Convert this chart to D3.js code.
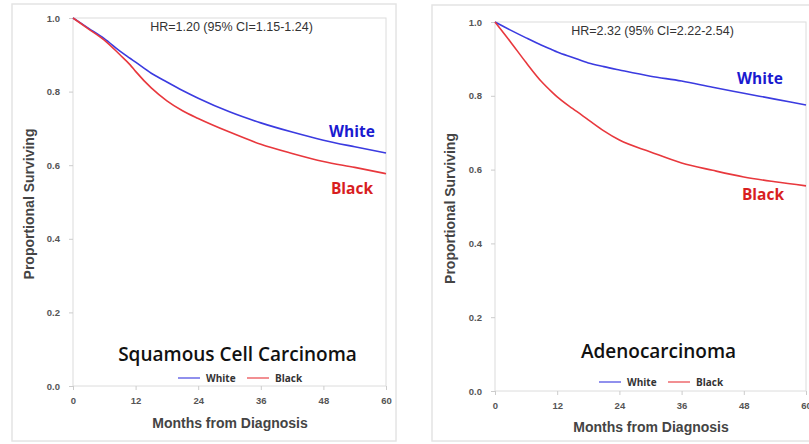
<!doctype html>
<html>
<head>
<meta charset="utf-8">
<title>Survival by race</title>
<style>
  html, body { margin: 0; padding: 0; background: #fff; }
  svg { display: block; }
  .tick text { font-family: "Liberation Sans", Arial, sans-serif; font-weight: bold; font-size: 9.5px; fill: #555; }
  .axis-title { font-family: "Liberation Sans", Arial, sans-serif; font-weight: bold; font-size: 14px; fill: #444; }
  .hr { font-family: "Liberation Sans", Arial, sans-serif; font-size: 12.5px; fill: #333; }
  .panel-title { font-family: "Open Sans", "Noto Sans", sans-serif; font-weight: 600; font-size: 19px; fill: #111; }
  .legend { font-family: "Open Sans", "Noto Sans", sans-serif; font-weight: bold; font-size: 10px; fill: #333; }
  .race { font-family: "Open Sans", "Noto Sans", sans-serif; font-weight: bold; font-size: 15.5px; }
</style>
</head>
<body>
<svg id="chart" width="809" height="444"></svg>
<script src="https://d3js.org/d3.v7.min.js"></script>
<script>
// months after diagnosis where the curves were read
var sqMonths = [0, 3, 6, 9, 11, 12, 15, 18, 21, 24, 30, 36, 42, 48, 54, 60];
var sqWhite  = [1.0, 0.972, 0.944, 0.91, 0.89, 0.88, 0.85, 0.826, 0.803, 0.782, 0.745, 0.715, 0.69, 0.668, 0.65, 0.633];
var sqBlack  = [1.0, 0.97, 0.94, 0.9, 0.872, 0.855, 0.81, 0.775, 0.748, 0.727, 0.69, 0.657, 0.632, 0.61, 0.594, 0.577];

var adMonths = [0, 3, 6, 9, 11, 12, 15, 18, 21, 24, 30, 36, 42, 48, 54, 60];
var adWhite  = [1.0, 0.978, 0.957, 0.937, 0.925, 0.919, 0.904, 0.889, 0.879, 0.87, 0.853, 0.84, 0.823, 0.807, 0.791, 0.775];
var adBlack  = [1.0, 0.946, 0.89, 0.838, 0.81, 0.797, 0.765, 0.735, 0.705, 0.68, 0.648, 0.618, 0.598, 0.58, 0.567, 0.556];

var xTicks = [0, 12, 24, 36, 48, 60];
var yTicks = [0.0, 0.2, 0.4, 0.6, 0.8, 1.0];
var seriesNames = ["White", "Black"];
var seriesColors = ["#3b3be0", "#e8383d"];
var labelColors = ["#1a1ad0", "#d81e1e"];

var panels = [
  { months: sqMonths, white: sqWhite, black: sqBlack,
    frame: [12, 4, 384, 437], plot: { left: 73, right: 386, top: 18, bottom: 386 },
    hr: "HR=1.20 (95% CI=1.15-1.24)", hrY: 31,
    title: "Squamous Cell Carcinoma", titleY: 361,
    raceLabels: [{ x: 352, y: 137 }, { x: 352, y: 194 }],
    legendX: 178, legendY: 378, ytitleX: 34, xtitleX: 230, xtitleY: 428 },
  { months: adMonths, white: adWhite, black: adBlack,
    frame: [432, 5, 400, 436], plot: { left: 495, right: 806, top: 22, bottom: 391 },
    hr: "HR=2.32 (95% CI=2.22-2.54)", hrY: 35,
    title: "Adenocarcinoma", titleY: 358,
    raceLabels: [{ x: 760, y: 84 }, { x: 763, y: 200 }],
    legendX: 599, legendY: 382, ytitleX: 455, xtitleX: 651, xtitleY: 432 }
];

var svg = d3.select("#chart");

panels.forEach(function(p) {
  var g = svg.append("g");

  g.append("rect")
    .attr("x", p.frame[0]).attr("y", p.frame[1])
    .attr("width", p.frame[2]).attr("height", p.frame[3])
    .attr("fill", "#fff").attr("stroke", "#e4e4e4").attr("stroke-width", 1.5);

  var x = d3.scaleLinear().domain([0, 60]).range([p.plot.left, p.plot.right]);
  var y = d3.scaleLinear().domain([0, 1]).range([p.plot.bottom, p.plot.top]);

  // plot area border
  g.append("rect")
    .attr("x", p.plot.left).attr("y", p.plot.top)
    .attr("width", p.plot.right - p.plot.left).attr("height", p.plot.bottom - p.plot.top)
    .attr("fill", "none").attr("stroke", "#dcdcdc").attr("stroke-width", 1);

  var xAxis = g.append("g")
    .attr("transform", "translate(0," + p.plot.bottom + ")")
    .call(d3.axisBottom(x).tickValues(xTicks).tickSize(4).tickPadding(7).tickFormat(d3.format("d")));
  var yAxis = g.append("g")
    .attr("transform", "translate(" + p.plot.left + ",0)")
    .call(d3.axisLeft(y).tickValues(yTicks).tickSize(4).tickPadding(9).tickFormat(d3.format(".1f")));
  [xAxis, yAxis].forEach(function(a) {
    a.select(".domain").remove();
    a.selectAll(".tick line").attr("stroke", "#ccc");
  });

  g.append("text").attr("class", "axis-title")
    .attr("x", p.xtitleX)
    .attr("y", p.xtitleY)
    .attr("text-anchor", "middle")
    .text("Months from Diagnosis");

  g.append("text").attr("class", "axis-title")
    .attr("transform", "translate(" + p.ytitleX + "," + ((p.plot.top + p.plot.bottom) / 2 + 2) + ") rotate(-90)")
    .attr("text-anchor", "middle")
    .text("Proportional Surviving");

  var line = d3.line()
    .x(function(d) { return x(d[0]); })
    .y(function(d) { return y(d[1]); })
    .curve(d3.curveMonotoneX);

  [p.white, p.black].forEach(function(vals, i) {
    var pts = p.months.map(function(m, k) { return [m, vals[k]]; });
    g.append("path")
      .datum(pts)
      .attr("d", line)
      .attr("fill", "none")
      .attr("stroke", seriesColors[i])
      .attr("stroke-width", 1.6);
  });

  g.append("text").attr("class", "hr")
    .attr("x", (p.plot.left + p.plot.right) / 2 + 2)
    .attr("y", p.hrY)
    .attr("text-anchor", "middle")
    .text(p.hr);

  seriesNames.forEach(function(n, i) {
    g.append("text").attr("class", "race")
      .attr("x", p.raceLabels[i].x).attr("y", p.raceLabels[i].y)
      .attr("text-anchor", "middle")
      .attr("fill", labelColors[i])
      .text(n);
  });

  g.append("text").attr("class", "panel-title")
    .attr("x", (p.plot.left + p.plot.right) / 2 + 8)
    .attr("y", p.titleY)
    .attr("text-anchor", "middle")
    .text(p.title);

  // legend
  var lx = p.legendX;
  seriesNames.forEach(function(n, i) {
    var lg = g.append("g").attr("transform", "translate(" + (lx + i * 69) + "," + p.legendY + ")");
    lg.append("line").attr("x1", 0).attr("x2", 22).attr("y1", 0).attr("y2", 0)
      .attr("stroke", seriesColors[i]).attr("stroke-opacity", 0.7).attr("stroke-width", 1.6);
    lg.append("text").attr("class", "legend").attr("x", 28).attr("y", 3.5).text(n);
  });
});
</script>
</body>
</html>
